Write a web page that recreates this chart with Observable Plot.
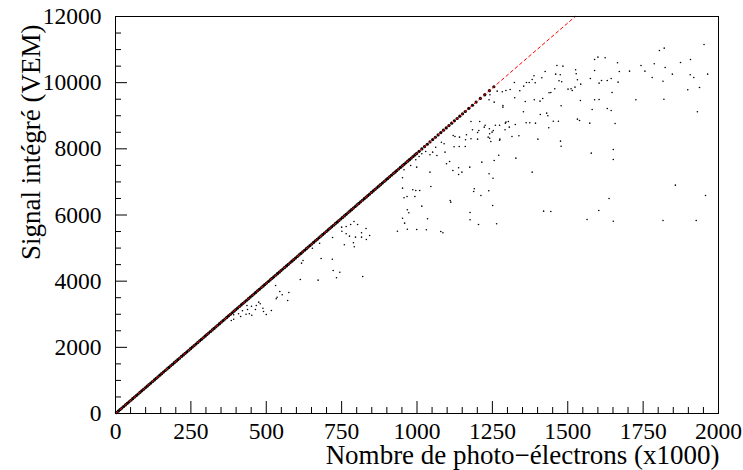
<!DOCTYPE html>
<html><head><meta charset="utf-8">
<script src="https://cdn.jsdelivr.net/npm/d3@7"></script>
<script src="https://cdn.jsdelivr.net/npm/@observablehq/plot@0.6"></script>
<style>body{margin:0;background:#fff} svg{display:block}</style>
</head><body><div id="chart"></div>
<script>
// Axis ticks
const xMajor = [0, 250, 500, 750, 1000, 1250, 1500, 1750, 2000];
const xMinor = [50,100,150,200,300,350,400,450,550,600,650,700,800,850,900,950,1050,1100,1150,1200,1300,1350,1400,1450,1550,1600,1650,1700,1800,1850,1900,1950];
const yMajor = [0, 2000, 4000, 6000, 8000, 10000, 12000];
const yMinor = [500,1000,1500,2500,3000,3500,4500,5000,5500,6500,7000,7500,8500,9000,9500,10500,11000,11500];

// Texts
const xTitle = "Nombre de photo\u2212électrons (x1000)";
const yTitle = "Signal intégré (VEM)";

// Reference line (red dashed) end points
const refX = [0, 1525];
const refY = [0, 12000];

// Points lying on the linear band
const bandX = [3,9,15,21,27,33,39,45,51,57,63,69,75,81,87,93,99,105,111,117,123,129,135,141,147,153,159,165,171,177,183,189,195,201,207,213,219,225,231,237,243,249,255,261,267,273,279,285,291,297,303,309,315,321,327,333,339,345,351,357,363,369,375,381,387,393,399,405,411,417,423,429,435,441,447,453,459,465,471,477,483,489,495,501,507,513,519,525,531,537,543,549,555,561,567,573,579,585,591,597,603,609,615,621,627,633,639,645,651,657,663,669,675,681,687,693,699,705,711,717,723,729,735,741,747,753,759,765,771,777,783,789,795,801,807,813,819,825,831,837,843,849,855,861,867,873,879,885,891,897,903,909,915,921,927,933,939,945,951,957,963,969,975,981,987,993,999,1007,1016,1025,1034,1043,1052,1061,1070,1079,1088,1097,1106,1115,1124,1133,1142,1151,1160,1172,1184,1196,1210,1225,1240,1255];
const bandY = [24,71,118,165,212,260,307,354,401,449,496,543,590,637,685,732,779,826,874,921,968,1015,1062,1110,1157,1204,1251,1299,1346,1393,1440,1487,1535,1582,1629,1676,1724,1771,1818,1865,1912,1960,2007,2054,2101,2149,2196,2243,2290,2337,2385,2432,2479,2526,2573,2621,2668,2715,2762,2810,2857,2904,2951,2998,3046,3093,3140,3187,3235,3282,3329,3376,3423,3471,3518,3565,3612,3660,3707,3754,3801,3848,3896,3943,3990,4037,4085,4132,4179,4226,4273,4321,4368,4415,4462,4510,4557,4604,4651,4698,4746,4793,4840,4887,4934,4982,5029,5076,5123,5171,5218,5265,5312,5359,5407,5454,5501,5548,5596,5643,5690,5737,5784,5832,5879,5926,5973,6021,6068,6115,6162,6209,6257,6304,6351,6398,6446,6493,6540,6587,6634,6682,6729,6776,6823,6871,6918,6965,7012,7059,7107,7154,7201,7248,7295,7343,7390,7437,7484,7532,7579,7626,7673,7720,7768,7815,7862,7925,7996,8067,8138,8208,8279,8350,8421,8492,8563,8633,8704,8775,8846,8917,8988,9058,9129,9224,9318,9413,9523,9641,9759,9877];

// Scattered points below the band
const scatX = [1952,1820,1804,1600,1624,1589,1665,1907,1874,1787,1743,1823,1589,1671,1705,1756,1847,1906,1964,1918,1780,1644,1612,1631,1604,1667,1816,1937,1898,1647,1589,1604,1726,1819,1581,1631,1644,1930,1657,
1315,1338,1401,1476,1478,1578,1651,1651,1328,1382,1857,1957,1637,1420,1444,1603,1564,1651,1816,1926,
1464,1484,1425,1526,1528,1460,1475,1388,1382,1372,1392,1414,1363,1323,1471,1480,1575,1532,1543,1511,1524,1501,1515,1457,1438,1444,1354,1341,1309,1295,1283,1266,1242,1225,1239,1256,1285,1285,1324,1359,1389,1408,1417,1542,1478,1353,1409,1430,1434,1303,1293,1326,1362,1374,1393,1437,1452,1469,1532,1539,1573,1226,1240,1253,1205,1184,1201,1292,1275,
1179,1208,1223,1260,1274,1295,1306,1236,1249,1241,1201,1164,1179,1161,1126,1141,1120,1241,1245,1274,1123,1140,1160,1081,1090,1062,1052,1066,1043,1093,1029,1016,1007,996,999,979,957,1271,1256,1215,1175,1108,1098,1138,1119,1149,1138,1239,1252,1043,952,1046,1190,1188,1238,1212,952,986,996,1009,957,967,993,1110,1112,1016,1251,968,973,1176,1035,1176,1204,1264,952,968,999,1031,1079,1086,
750,765,780,791,803,751,765,776,796,816,831,816,843,832,759,789,792,720,677,653,622,617,682,719,722,744,733,672,820,613,959,935,
531,545,553,536,533,575,571,475,480,467,451,436,489,464,438,421,491,517,500,452,444,433,415,408,392,392,384];
const scatY = [11155,11043,10973,10771,10753,10701,10602,10701,10611,10571,10520,10460,10369,10339,10348,10348,10257,10239,10257,10157,10157,10127,10067,10067,9985,10015,10045,9855,9785,9704,9483,9492,9483,9501,9190,9220,9160,9120,8767,
8374,8395,8292,8232,8080,7869,7981,7678,7718,7295,6902,6590,6499,6116,6106,6137,5865,5813,5834,5834,
10520,10499,10339,10390,10269,10257,10239,10209,10097,10006,9997,10148,10006,10006,10057,10027,10127,10088,9955,9816,9864,9804,9764,9816,9695,9704,9894,9755,9795,9764,9725,9743,9634,9604,9483,9411,9311,9260,9544,9432,9483,9441,9522,9462,9302,9120,9039,9078,8999,8827,8776,8736,8788,8788,8776,8637,8836,8836,8897,8857,8776,8715,8606,8555,8555,8576,8292,8576,8292,
8827,8827,8655,8715,8715,8806,8655,8353,8504,8455,8495,8425,8304,8274,8374,8353,8404,8322,8223,8262,8062,8071,8071,8201,8153,8050,7899,7799,7820,7899,7920,7851,7769,7669,7446,7497,7367,7808,7648,7597,7446,7618,7548,7428,7346,7295,7225,7246,7113,7295,7125,6862,6793,6711,6732,6590,6811,6762,6741,6741,6521,6560,6560,6439,6388,6267,6288,6158,6067,6076,5886,5855,5713,5735,5904,5571,5562,5553,5502,5463,
5632,5653,5713,5804,5713,5511,5432,5360,5330,5463,5593,5330,5381,5260,5100,5160,5039,5320,5148,4997,4625,4544,4686,4664,4323,4271,4102,4030,4142,4051,5753,5511,
3869,3688,3588,3516,3467,3658,3416,3365,3316,3265,3244,3265,3183,3144,3144,3105,3083,3114,2993,2972,3014,3002,2932,3014,2984,2851,2811];

const W = 743, H = 470, mL = 115, mR = 25, mT = 16, mB = 57;
const plotW = W - mL - mR, plotH = H - mT - mB;
const band = bandX.map((x, i) => ({x, y: bandY[i]}));
const scat = scatX.map((x, i) => ({x, y: scatY[i]}));
const ref = refX.map((x, i) => ({x, y: refY[i]}));
const font = "'Liberation Serif', 'Times New Roman', serif";

const chart = Plot.plot({
  width: W, height: H,
  marginLeft: mL, marginRight: mR, marginTop: mT, marginBottom: mB,
  x: {domain: [0, 2000]},
  y: {domain: [0, 12000]},
  style: {fontFamily: font, background: "#fff", color: "#000"},
  marks: [
    Plot.dot(band, {x: "x", y: "y", r: 1.6, fill: "#000", stroke: null}),
    Plot.dot(scat, {x: "x", y: "y", r: 0.8, fill: "#000", stroke: null}),
    Plot.line(ref, {x: "x", y: "y", stroke: "#ff0000", strokeWidth: 1, strokeDasharray: "3,3"}),
    Plot.tickX(xMajor, {x: d => d, insetTop: plotH - 12, stroke: "#000"}),
    Plot.tickX(xMinor, {x: d => d, insetTop: plotH - 6, stroke: "#000"}),
    Plot.tickY(yMajor, {y: d => d, insetRight: plotW - 12, stroke: "#000"}),
    Plot.tickY(yMinor, {y: d => d, insetRight: plotW - 6, stroke: "#000"}),
    Plot.axisX({ticks: xMajor, tickSize: 0, tickPadding: 9, tickFormat: d => String(d), fontSize: 23.5, label: null}),
    Plot.axisY({ticks: yMajor, tickSize: 0, tickPadding: 14, tickFormat: d => String(d), fontSize: 23.5, label: null}),
    Plot.frame({stroke: "#000", strokeWidth: 1}),
    Plot.text([xTitle], {frameAnchor: "bottom-right", dx: 1, dy: 42, lineAnchor: "middle", textAnchor: "end", fontSize: 27, fill: "#000"}),
    Plot.text([yTitle], {frameAnchor: "top-left", dx: -84, dy: 8, rotate: -90, lineAnchor: "middle", textAnchor: "end", fontSize: 27, fill: "#000"})
  ]
});
document.getElementById("chart").appendChild(chart);
</script>
</body></html>
